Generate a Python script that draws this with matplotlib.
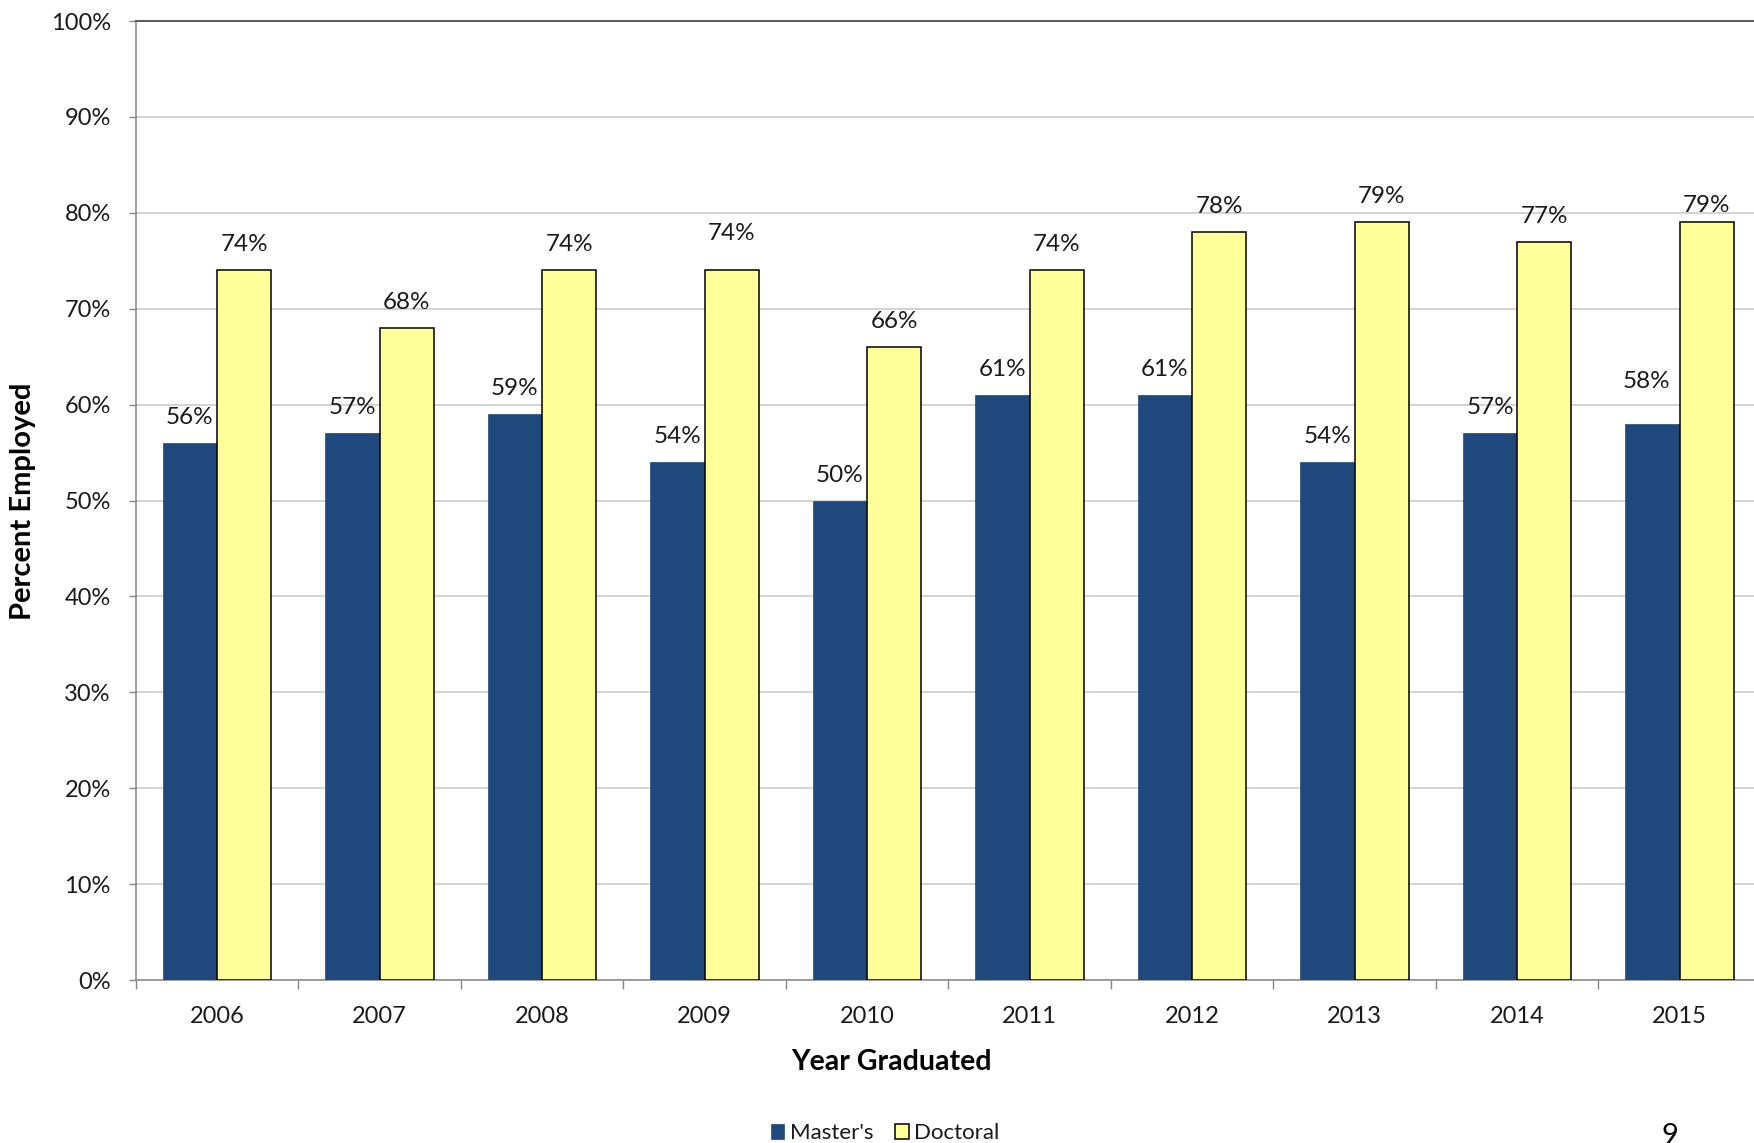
import matplotlib.pyplot as plt
from matplotlib.ticker import FixedLocator

years = ["2006", "2007", "2008", "2009", "2010", "2011", "2012", "2013", "2014", "2015"]
masters = [56, 57, 59, 54, 50, 61, 61, 54, 57, 58]
doctoral = [74, 68, 74, 74, 66, 74, 78, 79, 77, 79]

# a few labels were dragged off their default spot (pixels: dx, dy)
label_nudge = {("m", 9): (-6, 17), ("d", 3): (0, 11), ("d", 9): (0, -9)}

plt.rcParams["font.family"] = ["Lato", "DejaVu Sans"]
text_color = "#1a1a1a"
axis_gray = "#868686"

fig = plt.figure(figsize=(17.54, 11.43), dpi=100)
ax = fig.add_axes([0.0774, 0.1426, 0.9265, 0.839])

x = list(range(len(years)))
w = 1 / 3
b1 = ax.bar([i - w / 2 for i in x], masters, width=w, color="#1f497d",
            edgecolor="#1f497d", linewidth=0.5, label="Master's", zorder=3)
b2 = ax.bar([i + w / 2 for i in x], doctoral, width=w, color="#ffff99",
            edgecolor="black", linewidth=1.1, label="Doctoral", zorder=3)

for key, bars, vals in (("m", b1, masters), ("d", b2, doctoral)):
    for i, (bar, v) in enumerate(zip(bars, vals)):
        dx, dy = label_nudge.get((key, i), (0, 0))
        ax.annotate(f"{v}%", (bar.get_x() + bar.get_width() / 2, v),
                    xytext=(dx, 15 + dy), textcoords="offset pixels",
                    ha="center", va="bottom", fontsize=17.5, color=text_color)

ax.set_xlim(-0.5, len(years) - 0.5)
ax.set_ylim(0, 100)
ax.set_yticks(range(0, 101, 10))
ax.set_yticklabels([f"{t}%" for t in range(0, 101, 10)])
ax.set_xticks(x)
ax.set_xticklabels(years)
ax.xaxis.set_minor_locator(FixedLocator([i - 0.5 for i in range(len(years) + 1)]))

ax.tick_params(axis="x", which="major", length=0, pad=19, labelsize=17,
               labelcolor=text_color)
ax.tick_params(axis="x", which="minor", length=6.5, width=1, color=axis_gray,
               direction="out")
ax.tick_params(axis="y", length=5, width=1, color=axis_gray, pad=13,
               labelsize=17, labelcolor=text_color)

ax.yaxis.grid(True, color="#c8c8c8", linewidth=1.1, zorder=0)
ax.set_axisbelow(True)
ax.spines["right"].set_visible(False)
ax.spines["top"].set_color("#595959")
ax.spines["top"].set_linewidth(1.4)
for s in ("left", "bottom"):
    ax.spines[s].set_color(axis_gray)
    ax.spines[s].set_linewidth(1.1)

fig.text(23 / 1754, 1 - 501 / 1143, "Percent Employed", rotation=90,
         ha="center", va="center", fontsize=21, fontweight="bold", color="black")
fig.text(891 / 1754, 1 - 1062 / 1143, "Year Graduated", ha="center",
         va="center", fontsize=20.5, fontweight="bold", color="black")

fig.legend(handles=[b1, b2], loc="center", bbox_to_anchor=(885 / 1754, 0.0085),
           ncol=2, frameon=False, fontsize=16, handlelength=0.6,
           handleheight=0.6, handletextpad=0.25, columnspacing=1.0,
           labelcolor=text_color)

# page number at the bottom right
fig.text(1670 / 1754, 20 / 1143, "9", ha="center", va="top", fontsize=21,
         color="black")

fig.savefig("out.png", dpi=100)
